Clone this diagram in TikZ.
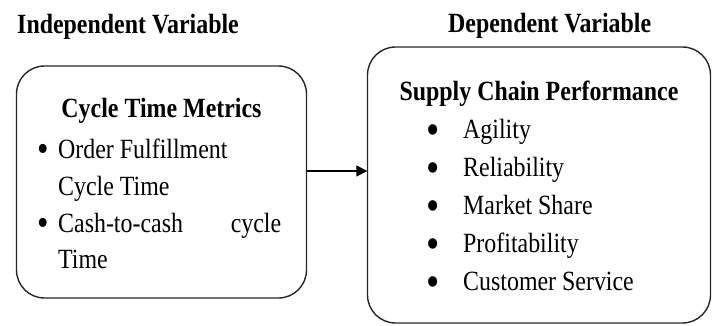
\documentclass[tikz,border=0pt]{standalone}
\usepackage{fontspec}
\setmainfont[FakeStretch=0.86]{Liberation Serif}
\usetikzlibrary{arrows.meta}

\tikzset{
  varbox/.style={draw=black!85, line width=1.4pt, rounded corners=28pt},
  txt/.style={inner sep=0pt, anchor=base west, font=\fontsize{27.8}{33}\selectfont},
  boldtxt/.style={txt, font=\fontsize{27.8}{33}\selectfont\bfseries},
  link/.style={line width=1.4pt, -{Triangle[length=11pt,width=11pt]}}
}
% bullet set in a box of the given width, lowered and enlarged
\newcommand{\lbul}{\makebox[29pt][c]{\raisebox{-3pt}{\fontsize{38}{40}\selectfont\smash{\textbullet}}}}
\newcommand{\rbul}{\makebox[60pt][c]{\raisebox{-6.5pt}{\fontsize{44}{46}\selectfont\smash{\textbullet}}}}

\begin{document}
\begin{tikzpicture}[x=1pt, y=-1pt]
  \useasboundingbox (0,0) rectangle (716,325);

  % headings above the boxes
  \node[boldtxt] (indep) at (17,33) {Independent Variable};
  \node[boldtxt] (dep) at (448,32) {Dependent Variable};

  % the two boxes
  \draw[varbox] (16.5,66) rectangle (306.5,298);
  \node[inner sep=0pt, minimum width=290pt, minimum height=232pt] (lbox) at (161.5,182) {};
  \draw[varbox] (367.5,47) rectangle (710.5,323);
  \node[inner sep=0pt, minimum width=343pt, minimum height=276pt] (rbox) at (539,185) {};

  % independent variable contents
  \node[boldtxt, anchor=base] (ltitle) at (161.5,117) {Cycle Time Metrics};
  \node[txt] (l1) at (29,158) {\lbul Order Fulfillment};
  \node[txt] (l1b) at (58,195) {Cycle Time};
  \node[txt] (l2) at (29,232) {\lbul\hbox to 223pt{Cash-to-cash\hfill cycle}};
  \node[txt] (l2b) at (58,268) {Time};

  % dependent variable contents
  \node[boldtxt, anchor=base] (rtitle) at (539,100) {Supply Chain Performance};
  \foreach \name/\yy/\label in {a/138/Agility, b/176/Reliability, c/214/Market Share, d/252/Profitability, e/290/Customer Service}{
    \node[txt] (r\name) at (403,\yy) {\rbul\label};
  }

  % connector
  \coordinate (arr) at (0,171);
  \draw[link] (lbox.east |- arr) -- (rbox.west |- arr);
\end{tikzpicture}
\end{document}
